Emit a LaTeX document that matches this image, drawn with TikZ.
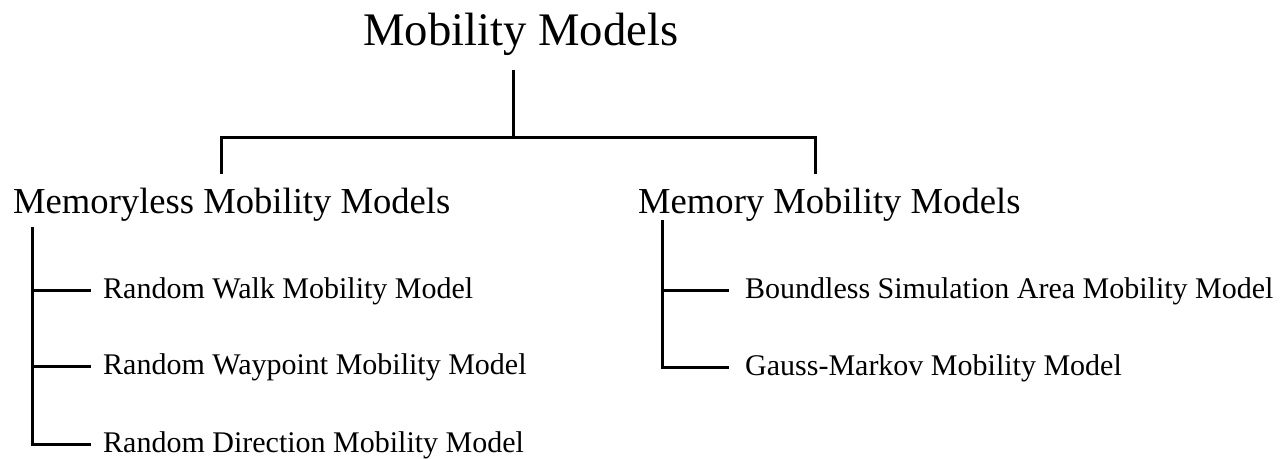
\documentclass[tikz,border=0pt]{standalone}
\usepackage{fontspec}
\setmainfont{Liberation Serif}
\begin{document}
\begin{tikzpicture}[x=1pt, y=-1pt,
  txt/.style={inner sep=0pt, anchor=base west, text=black},
  toptitle/.style={txt, font=\fontsize{46.7}{50}\selectfont},
  grouptitle/.style={txt, font=\fontsize{36.6}{40}\selectfont},
  leaf/.style={txt, font=\fontsize{30}{34}\selectfont},
  tree/.style={draw=black, line width=3pt, line cap=rect}
]
\useasboundingbox[fill=white] (0,0) rectangle (1285,458);

% headings
\node[toptitle]   (root) at (363,45)  {Mobility Models};
\node[grouptitle] (mless) at (13,213) {Memoryless Mobility Models};
\node[grouptitle] (mem)   at (638,213) {Memory Mobility Models};

% leaves
\node[leaf] (walk)  at (103,298) {Random Walk Mobility Model};
\node[leaf] (wayp)  at (103,374) {Random Waypoint Mobility Model};
\node[leaf] (dir)   at (103,452) {Random Direction Mobility Model};
\node[leaf] (bsa)   at (745,298) {Boundless Simulation Area Mobility Model};
\node[leaf] (gauss) at (745,375) {Gauss-Markov Mobility Model};

% junction points of the tree
\coordinate (rootfoot) at (513,71);
\coordinate (bar)      at (513,137);
\coordinate (lbar)     at (221,137);
\coordinate (rbar)     at (815,137);
\coordinate (lhead)    at (221,172);
\coordinate (rhead)    at (815,172);
\coordinate (ltop)     at (32,228);
\coordinate (rtop)     at (662,221);

% top level
\draw[tree] (rootfoot) -- (bar);
\draw[tree] (lhead) -- (lbar) -- (rbar) -- (rhead);

% memoryless branch
\draw[tree] (ltop) |- ([xshift=-14pt]dir.west |- 0,444);
\draw[tree] (ltop |- 0,290) -- ([xshift=-14pt]walk.west |- 0,290);
\draw[tree] (ltop |- 0,366) -- ([xshift=-14pt]wayp.west |- 0,366);

% memory branch
\draw[tree] (rtop) |- ([xshift=-18pt]gauss.west |- 0,367);
\draw[tree] (rtop |- 0,290) -- ([xshift=-18pt]bsa.west |- 0,290);
\end{tikzpicture}
\end{document}
